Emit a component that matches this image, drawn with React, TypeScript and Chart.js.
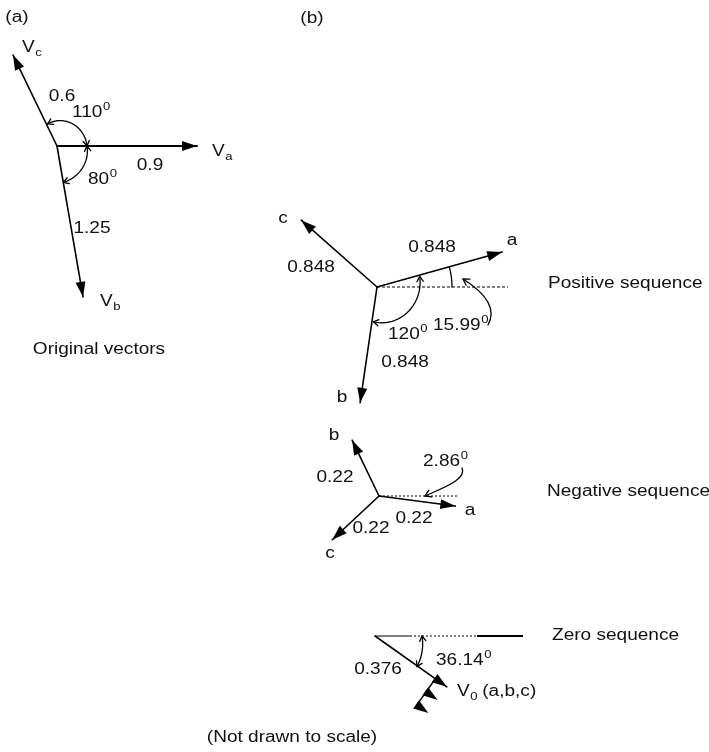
import React, { useEffect, useRef } from 'react';
import { Chart, registerables } from 'chart.js';

Chart.register(...registerables);

// ---------------- data ----------------
// phasor stars (one per diagram), origin in diagram units
const groupTitles = ['Original vectors', 'Positive sequence', 'Negative sequence', 'Zero sequence'];
const groupOriginX = [57, 377, 379, 375];
const groupOriginY = [146, 287, 496, 636];

// phasors (not drawn to scale): drawn length and angle (deg, counter-clockwise)
const phasorGroup = [0, 0, 0, 1, 1, 1, 2, 2, 2, 3];
const phasorLetter = ['V', 'V', 'V', 'a', 'b', 'c', 'a', 'b', 'c', 'V'];
const phasorSub = ['a', 'b', 'c', '', '', '', '', '', '', '0'];
const phasorTail = ['', '', '', '', '', '', '', '', '', ' (a,b,c)'];
const phasorMagnitude = ['0.9', '1.25', '0.6', '0.848', '0.848', '0.848', '0.22', '0.22', '0.22', '0.376'];
const phasorDrawnLength = [140, 153, 101, 130, 117, 101, 77, 62, 64, 88];
const phasorDrawnAngle = [0, -80.2, 115.8, 15.6, -98.3, 138.6, -7.5, 115.7, -136.9, -35.3];
const zeroSequenceMembers = ['a', 'b', 'c'];

// angle annotations
const angleValues = ['110', '80', '120', '15.99', '2.86', '36.14'];
const arcGroup = [0, 0, 1, 1, 3];
const arcFrom = [0, 0, 14, 0, 0];
const arcTo = [113, -80, -96, 15.6, -36];
const arcR0 = [30, 30, 44, 75, 47];
const arcR1 = [24, 37, 35, 75, 52];
const arcHeadStart = [true, true, true, false, true];
const arcHeadEnd = [true, true, true, false, true];

// horizontal reference lines (group, from, to along +x)
const refGroup = [1, 2, 3, 3, 3];
const refFrom = [0, 0, 0, 35, 102];
const refTo = [131, 79, 35, 102, 148];
const refStyle = ['dash', 'dot', 'solid', 'dot', 'thick'];

// ---------------- layout ----------------
const FONT = '"Liberation Sans", Arial, Helvetica, sans-serif';
const FS = 16;
const FS_SMALL = 11;
const SX = 1.19; // horizontal stretch of the lettering

const phasorLabelPos = [
  { x: 212, y: 152, align: 'left' },
  { x: 100, y: 302, align: 'left' },
  { x: 22, y: 48, align: 'left' },
  { x: 512, y: 241, align: 'center' },
  { x: 342, y: 398, align: 'center' },
  { x: 283, y: 219, align: 'center' },
  { x: 470, y: 511, align: 'center' },
  { x: 334, y: 436, align: 'center' },
  { x: 330, y: 554, align: 'center' },
  { x: 457, y: 692, align: 'left' },
];
const magnitudeLabelPos = [
  { x: 150, y: 166 }, { x: 92, y: 229 }, { x: 62, y: 97 },
  { x: 432, y: 248 }, { x: 405, y: 363 }, { x: 311, y: 268 },
  { x: 414, y: 519 }, { x: 335, y: 478 }, { x: 371, y: 529 },
  { x: 378, y: 670 },
];
const angleLabelPos = [
  { x: 72, y: 113 }, { x: 88, y: 180 }, { x: 388, y: 335 },
  { x: 433, y: 326 }, { x: 423, y: 462 }, { x: 436, y: 661 },
];
const groupTitlePos = [
  { x: 99, y: 350, align: 'center' },
  { x: 548, y: 284, align: 'left' },
  { x: 547, y: 492, align: 'left' },
  { x: 552, y: 636, align: 'left' },
];
const leaderCurves = [
  [[488, 325], [499, 305], [479, 289], [463, 279]],
  [[462, 468], [467, 479], [445, 487], [425, 496]],
];

function tipOf(i: number) {
  const g = phasorGroup[i];
  const a = (phasorDrawnAngle[i] * Math.PI) / 180;
  return {
    x0: groupOriginX[g],
    y0: groupOriginY[g],
    x1: groupOriginX[g] + phasorDrawnLength[i] * Math.cos(a),
    y1: groupOriginY[g] - phasorDrawnLength[i] * Math.sin(a),
  };
}

function arrowHead(ctx: CanvasRenderingContext2D, tx: number, ty: number, ang: number, len: number, hw: number) {
  const bx = tx - len * Math.cos(ang);
  const by = ty - len * Math.sin(ang);
  ctx.beginPath();
  ctx.moveTo(tx, ty);
  ctx.lineTo(bx + hw * Math.sin(ang), by - hw * Math.cos(ang));
  ctx.lineTo(bx - hw * Math.sin(ang), by + hw * Math.cos(ang));
  ctx.closePath();
  ctx.fill();
}

function chevron(ctx: CanvasRenderingContext2D, tx: number, ty: number, ang: number, len: number) {
  ctx.beginPath();
  ctx.moveTo(tx - len * Math.cos(ang - 0.55), ty - len * Math.sin(ang - 0.55));
  ctx.lineTo(tx, ty);
  ctx.lineTo(tx - len * Math.cos(ang + 0.55), ty - len * Math.sin(ang + 0.55));
  ctx.stroke();
}

function drawLabel(
  ctx: CanvasRenderingContext2D,
  x: number,
  y: number,
  main: string,
  align: string,
  sup = '',
  sub = '',
  tail = ''
) {
  ctx.save();
  ctx.textBaseline = 'middle';
  ctx.textAlign = 'left';
  ctx.font = `${FS}px ${FONT}`;
  const w1 = ctx.measureText(main).width;
  const wTail = tail ? ctx.measureText(tail).width : 0;
  ctx.font = `${FS_SMALL}px ${FONT}`;
  const w2 = Math.max(sup ? ctx.measureText(sup).width : 0, sub ? ctx.measureText(sub).width : 0);
  const W = w1 + w2 + wTail;
  ctx.translate(x, y);
  ctx.scale(SX, 1);
  const s = align === 'center' ? -W / 2 : 0;
  ctx.font = `${FS}px ${FONT}`;
  ctx.fillText(main, s, 0);
  ctx.font = `${FS_SMALL}px ${FONT}`;
  if (sup) ctx.fillText(sup, s + w1 + 0.5, -6);
  if (sub) ctx.fillText(sub, s + w1 + 0.5, 5);
  if (tail) {
    ctx.font = `${FS}px ${FONT}`;
    ctx.fillText(tail, s + w1 + w2, 0);
  }
  ctx.restore();
}

const diagramPlugin = {
  id: 'phasorDiagram',
  afterDatasetsDraw(chart: any) {
    const ctx: CanvasRenderingContext2D = chart.ctx;
    const xs = chart.scales.x;
    const ys = chart.scales.y;
    const px = (v: number) => xs.getPixelForValue(v);
    const py = (v: number) => ys.getPixelForValue(v);
    const u = px(1) - px(0);
    ctx.save();
    ctx.fillStyle = '#000';
    ctx.strokeStyle = '#000';
    ctx.lineCap = 'round';
    ctx.lineJoin = 'round';

    // phasor arrowheads
    phasorGroup.forEach((g, i) => {
      const t = tipOf(i);
      const ang = Math.atan2(py(t.y1) - py(t.y0), px(t.x1) - px(t.x0));
      arrowHead(ctx, px(t.x1), py(t.y1), ang, 15, 5);
      if (g === 3) {
        // stacked zero-sequence phasors a, b, c
        const perp = ang + Math.PI / 2;
        const step = 16;
        const bx0 = px(t.x1) - 14 * Math.cos(ang);
        const by0 = py(t.y1) - 14 * Math.sin(ang);
        const n = zeroSequenceMembers.length - 1;
        ctx.lineWidth = 1.5;
        ctx.beginPath();
        ctx.moveTo(bx0, by0);
        ctx.lineTo(bx0 + n * step * Math.cos(perp), by0 + n * step * Math.sin(perp));
        ctx.stroke();
        for (let k = 1; k <= n; k++) {
          arrowHead(ctx, px(t.x1) + k * step * Math.cos(perp), py(t.y1) + k * step * Math.sin(perp), ang, 15, 5);
        }
      }
    });

    // angle arcs
    ctx.lineWidth = 1.3;
    arcGroup.forEach((g, i) => {
      const cx = groupOriginX[g];
      const cy = groupOriginY[g];
      const N = 48;
      const pts: number[][] = [];
      for (let k = 0; k <= N; k++) {
        const tt = k / N;
        const a = ((arcFrom[i] + (arcTo[i] - arcFrom[i]) * tt) * Math.PI) / 180;
        const r = arcR0[i] + (arcR1[i] - arcR0[i]) * tt;
        pts.push([px(cx + r * Math.cos(a)), py(cy - r * Math.sin(a))]);
      }
      ctx.beginPath();
      pts.forEach((p, k) => (k === 0 ? ctx.moveTo(p[0], p[1]) : ctx.lineTo(p[0], p[1])));
      ctx.stroke();
      if (arcHeadEnd[i]) {
        const a = pts[N], b = pts[N - 3];
        chevron(ctx, a[0], a[1], Math.atan2(a[1] - b[1], a[0] - b[0]), 6 * u);
      }
      if (arcHeadStart[i]) {
        const a = pts[0], b = pts[3];
        chevron(ctx, a[0], a[1], Math.atan2(a[1] - b[1], a[0] - b[0]), 6 * u);
      }
    });

    // leader curves to angle labels
    leaderCurves.forEach((c) => {
      ctx.beginPath();
      ctx.moveTo(px(c[0][0]), py(c[0][1]));
      ctx.bezierCurveTo(px(c[1][0]), py(c[1][1]), px(c[2][0]), py(c[2][1]), px(c[3][0]), py(c[3][1]));
      ctx.stroke();
      const ang = Math.atan2(py(c[3][1]) - py(c[2][1]), px(c[3][0]) - px(c[2][0]));
      chevron(ctx, px(c[3][0]), py(c[3][1]), ang, 7 * u);
    });

    // text
    ctx.fillStyle = '#111';
    phasorGroup.forEach((_, i) => {
      const p = phasorLabelPos[i];
      drawLabel(ctx, px(p.x), py(p.y), phasorLetter[i], p.align, '', phasorSub[i], phasorTail[i]);
      const m = magnitudeLabelPos[i];
      drawLabel(ctx, px(m.x), py(m.y), phasorMagnitude[i], 'center');
    });
    angleValues.forEach((v, i) => {
      const p = angleLabelPos[i];
      drawLabel(ctx, px(p.x), py(p.y), v, 'left', '0');
    });
    groupTitles.forEach((t, i) => {
      const p = groupTitlePos[i];
      drawLabel(ctx, px(p.x), py(p.y), t, p.align);
    });
    drawLabel(ctx, px(17), py(18), '(a)', 'center');
    drawLabel(ctx, px(312), py(19), '(b)', 'center');
    drawLabel(ctx, px(292), py(738), '(Not drawn to scale)', 'center');
    ctx.restore();
  },
};

export default function App() {
  const ref = useRef<HTMLCanvasElement>(null);
  useEffect(() => {
    document.body.style.margin = '0';
    const datasets: any[] = [];
    phasorGroup.forEach((g, i) => {
      const t = tipOf(i);
      datasets.push({
        data: [{ x: t.x0, y: t.y0 }, { x: t.x1, y: t.y1 }],
        showLine: true,
        borderColor: '#000',
        borderWidth: i === 0 ? 2.2 : 1.6,
        pointRadius: 0,
        borderCapStyle: 'round',
      });
    });
    refGroup.forEach((g, i) => {
      const st = refStyle[i];
      datasets.push({
        data: [
          { x: groupOriginX[g] + refFrom[i], y: groupOriginY[g] },
          { x: groupOriginX[g] + refTo[i], y: groupOriginY[g] },
        ],
        showLine: true,
        borderColor: '#000',
        borderWidth: st === 'thick' ? 2.2 : 1,
        borderDash: st === 'dash' ? [3, 2] : st === 'dot' ? [2, 2] : [],
        pointRadius: 0,
      });
    });
    const chart = new Chart(ref.current as HTMLCanvasElement, {
      type: 'scatter',
      data: { datasets },
      options: {
        responsive: false,
        animation: false,
        devicePixelRatio: 1,
        layout: { padding: 0 },
        scales: {
          x: { type: 'linear', min: 0, max: 709, display: false },
          y: { type: 'linear', min: 0, max: 752, reverse: true, display: false },
        },
        plugins: { legend: { display: false }, tooltip: { enabled: false } },
        elements: { point: { radius: 0 } },
      },
      plugins: [diagramPlugin],
    } as any);
    return () => chart.destroy();
  }, []);
  return <canvas ref={ref} width={709} height={752} style={{ display: 'block', background: '#fff' }} />;
}
